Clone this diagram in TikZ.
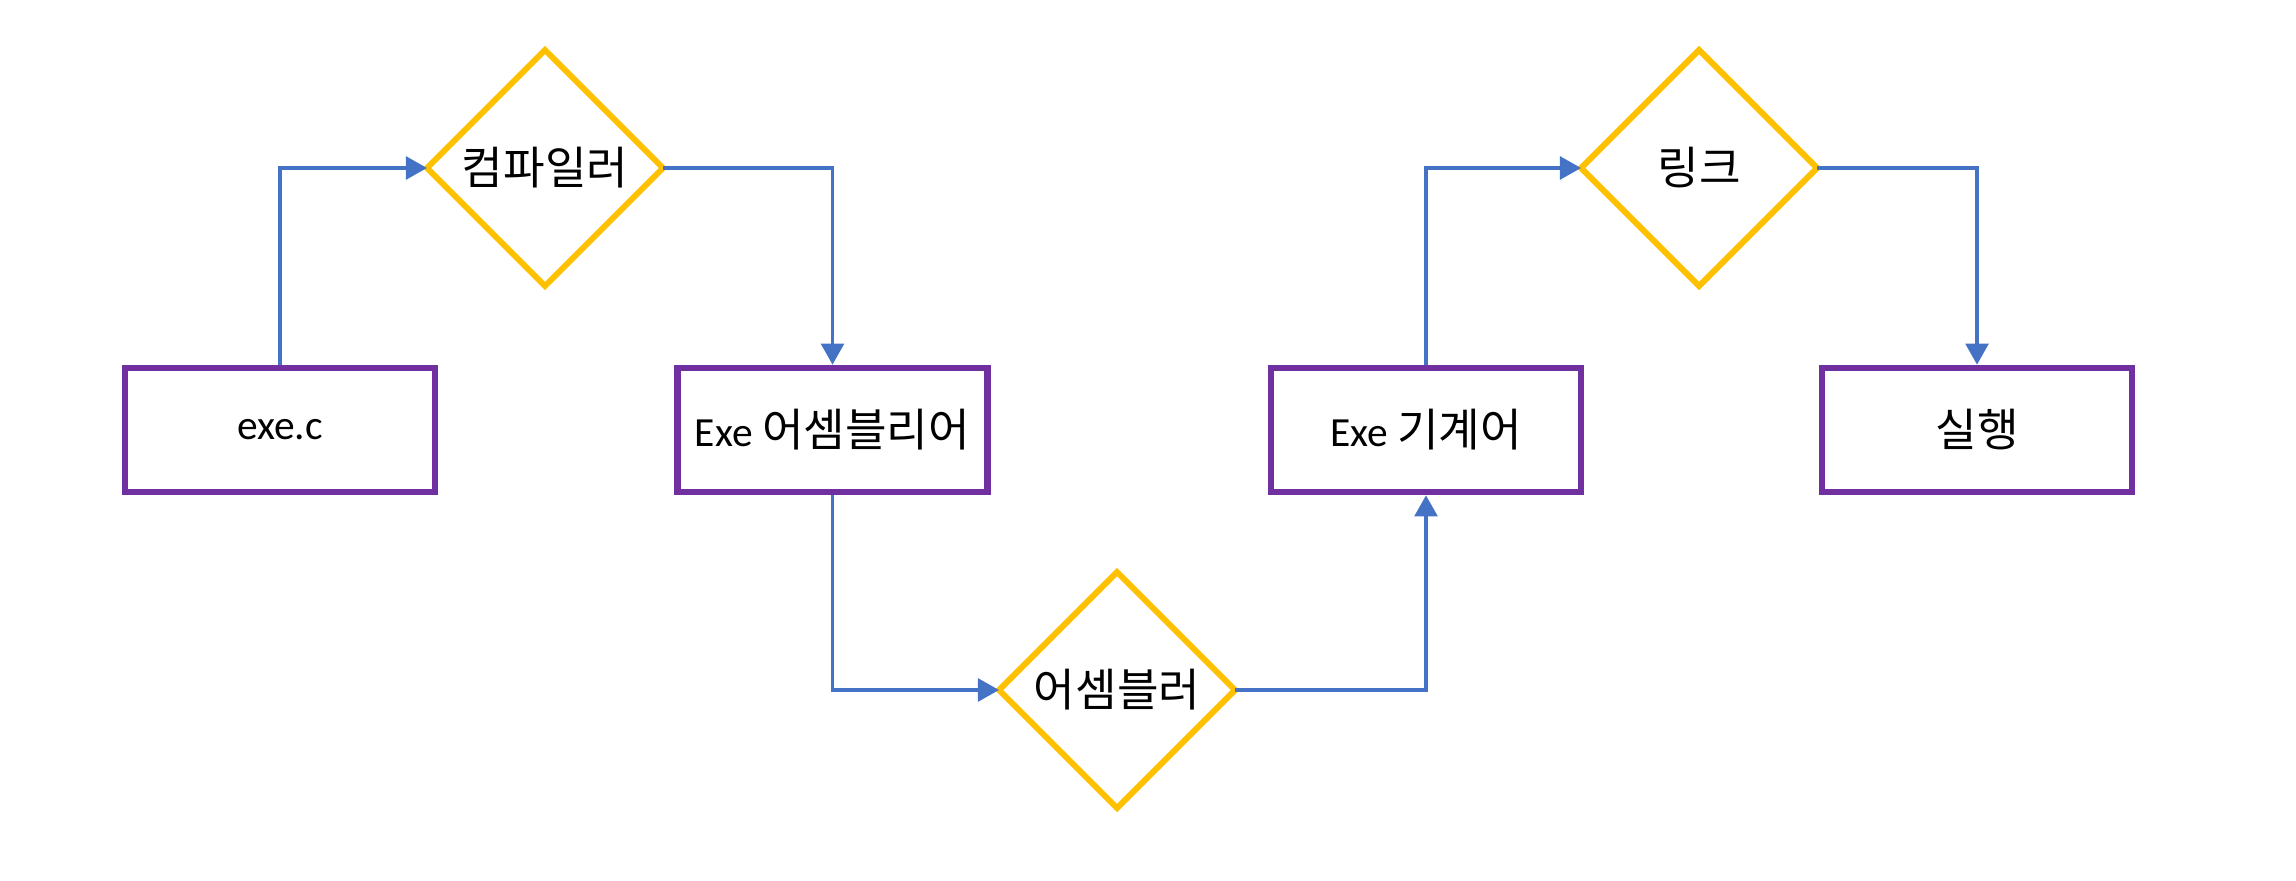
\documentclass[tikz,border=0pt]{standalone}
\usepackage{fontspec}
\setmainfont{Carlito}
\newfontfamily\kr[Scale=1.09]{Noto Sans CJK KR}
\usepackage{tikz}
\usetikzlibrary{arrows.meta,shapes.geometric}
\definecolor{boxpurple}{HTML}{7030A0}
\definecolor{toolgold}{HTML}{FFC000}
\definecolor{flowblue}{HTML}{4472C4}

\begin{document}
\begin{tikzpicture}[every node/.style={align=center, font=\fontsize{11.8}{14}\selectfont},
    stage/.style={draw=boxpurple, line width=1.9pt, minimum width=3.1cm, minimum height=1.24cm, inner sep=2pt},
    tool/.style={draw=toolgold, line width=1.7pt, diamond, aspect=1, minimum width=2.36cm, minimum height=2.36cm, inner sep=0pt, outer sep=0pt},
    flow/.style={draw=flowblue, line width=0.95pt, -{Triangle[length=6pt,width=6.5pt]}}]
  \useasboundingbox (0,0) rectangle (22.96,8.80);
  \node[stage] (src) at (2.80,4.50) {exe.c};
  \node[stage] (asm) at (8.325,4.50) {Exe {\kr 어셈블리어}};
  \node[stage] (mach) at (14.26,4.50) {Exe {\kr 기계어}};
  \node[stage] (run) at (19.77,4.50) {\kr 실행};
  \node[tool] (compiler) at (5.45,7.12) {\kr 컴파일러};
  \node[tool] (assembler) at (11.17,1.90) {\kr 어셈블러};
  \node[tool] (linker) at (16.99,7.12) {\kr 링크};
  \draw[flow] (src.north) |- (compiler.west);
  \draw[flow] (compiler.east) -| (asm.north);
  \draw[flow] (asm.south) |- (assembler.west);
  \draw[flow] (assembler.east) -| (mach.south);
  \draw[flow] (mach.north) |- (linker.west);
  \draw[flow] (linker.east) -| (run.north);
\end{tikzpicture}
\end{document}
